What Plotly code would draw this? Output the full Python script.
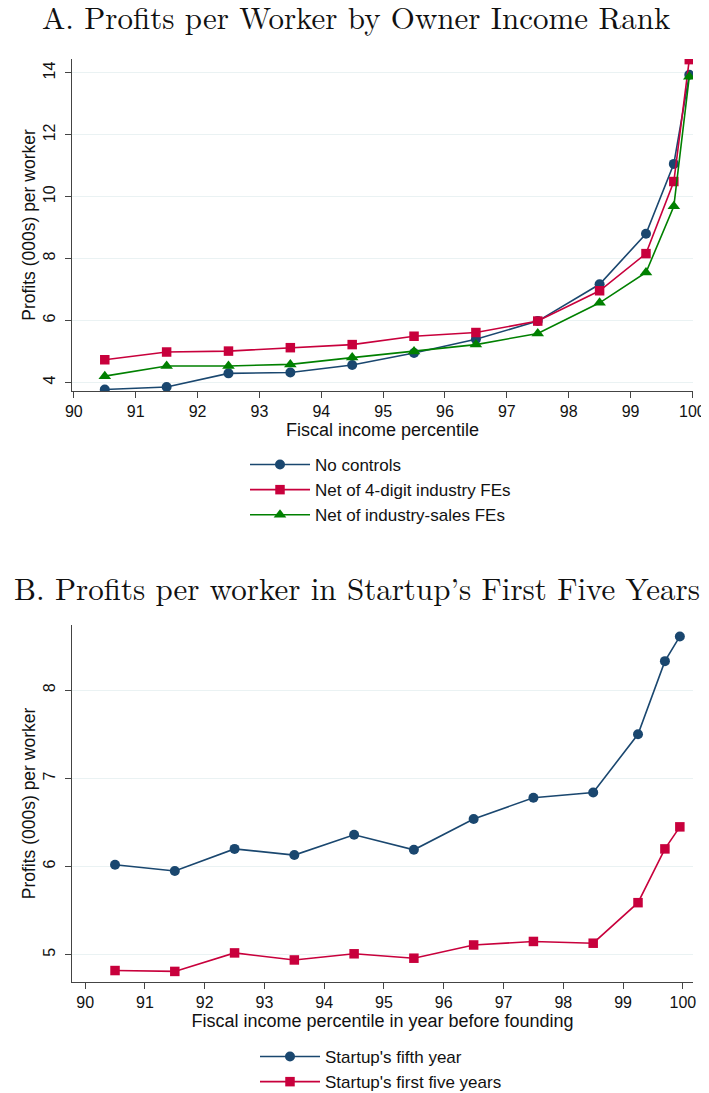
import plotly.graph_objects as go

# ---- Data ----
pct_bins = [90.5, 91.5, 92.5, 93.5, 94.5, 95.5, 96.5, 97.5, 98.5, 99.25, 99.7, 99.95]

a_no_controls = [3.77, 3.85, 4.29, 4.32, 4.56, 4.95, 5.39, 5.98, 7.17, 8.80, 11.06, 13.94]
a_net_4digit = [4.73, 4.98, 5.01, 5.12, 5.22, 5.49, 5.61, 5.98, 6.96, 8.16, 10.49, 14.43]
a_net_indsales = [4.20, 4.53, 4.53, 4.58, 4.80, 5.00, 5.22, 5.58, 6.57, 7.55, 9.69, 13.88]

b_fifth_year = [6.02, 5.95, 6.20, 6.13, 6.36, 6.19, 6.54, 6.78, 6.84, 7.50, 8.33, 8.61]
b_first_five = [4.82, 4.81, 5.02, 4.94, 5.01, 4.96, 5.11, 5.15, 5.13, 5.59, 6.20, 6.45]

x_ticks = [90, 91, 92, 93, 94, 95, 96, 97, 98, 99, 100]
a_y_ticks = [4, 6, 8, 10, 12, 14]
b_y_ticks = [5, 6, 7, 8]

names_a = ["No controls", "Net of 4-digit industry FEs", "Net of industry-sales FEs"]
names_b = ["Startup's fifth year", "Startup's first five years"]

title_a = "A. Profits per Worker by Owner Income Rank"
title_b = "B. Profits per worker in Startup\u2019s First Five Years"
xtitle_a = "Fiscal income percentile"
xtitle_b = "Fiscal income percentile in year before founding"
ytitle = "Profits (000s) per worker"

# ---- Style ----
NAVY = "#1a476f"
RED = "#c8003c"
GREEN = "#008000"
SANS = "Liberation Sans, Arial, sans-serif"
SERIF = "Latin Modern Roman, CMU Serif, Liberation Serif, serif"

# The page body has an 8px margin, so the figure is sized to the visible
# window and all positions below are given in window pixels minus OFF.
OFF = 8
W, H = 709 - OFF, 1093 - OFF
L = 72 - OFF
R = W - (693 - OFF)
PW = W - L - R

fig = go.Figure()

def add(x, y, name, color, symbol, size, xa, ya, legend):
    fig.add_trace(go.Scatter(
        x=x, y=y, name=name, mode="lines+markers",
        line=dict(color=color, width=1.6),
        marker=dict(color=color, symbol=symbol, size=size),
        xaxis=xa, yaxis=ya, legend=legend))

add(pct_bins, a_no_controls, names_a[0], NAVY, "circle", 10, "x", "y", "legend")
add(pct_bins, a_net_4digit, names_a[1], RED, "square", 9.5, "x", "y", "legend")
add(pct_bins, a_net_indsales, names_a[2], GREEN, "triangle-up", 11, "x", "y", "legend")
add(pct_bins, b_fifth_year, names_b[0], NAVY, "circle", 10, "x2", "y2", "legend2")
add(pct_bins, b_first_five, names_b[1], RED, "square", 9.5, "x2", "y2", "legend2")

def ydom(top_px, bot_px):
    return [1 - (bot_px - OFF) / H, 1 - (top_px - OFF) / H]

def px_x(px):
    return (px - OFF - L) / PW

def px_y(px):
    return 1 - (px - OFF) / H

axis_common = dict(
    showline=True, linecolor="#444444", linewidth=1.2,
    ticks="outside", ticklen=6, tickcolor="#444444", tickwidth=1.2,
    tickfont=dict(family=SANS, size=16, color="#111111"),
    zeroline=False, automargin=False,
)
xt_font = dict(family=SANS, size=18, color="#111111")
yt_font = dict(family=SANS, size=17.5, color="#111111")

fig.update_layout(
    template="none",
    width=W, height=H,
    margin=dict(l=L, r=R, t=0, b=0, autoexpand=False),
    paper_bgcolor="white", plot_bgcolor="white",
    showlegend=True,
    xaxis=dict(domain=[0, 1], anchor="y", range=[89.97, 100.01],
               tickvals=x_ticks, showgrid=False,
               title=dict(text=xtitle_a, font=xt_font, standoff=0),
               **axis_common),
    yaxis=dict(domain=ydom(59, 391), anchor="x", range=[3.72, 14.45],
               tickvals=a_y_ticks, tickangle=-90, showgrid=True, gridcolor="#eaf2f3", gridwidth=1,
               ticklabelstandoff=4,
               title=dict(text=ytitle, font=yt_font, standoff=0),
               **axis_common),
    xaxis2=dict(domain=[0, 1], anchor="y2", range=[89.78, 100.17],
                tickvals=x_ticks, showgrid=False,
                title=dict(text=xtitle_b, font=xt_font, standoff=0),
                **axis_common),
    yaxis2=dict(domain=ydom(625, 982), anchor="x2", range=[4.69, 8.74],
                tickvals=b_y_ticks, tickangle=-90, showgrid=True, gridcolor="#eaf2f3", gridwidth=1,
                ticklabelstandoff=4,
                title=dict(text=ytitle, font=yt_font, standoff=0),
                **axis_common),
    legend=dict(x=px_x(245), xanchor="left", y=px_y(447), yanchor="top",
                font=dict(family=SANS, size=17, color="#111111"),
                bgcolor="rgba(0,0,0,0)", tracegroupgap=0, itemwidth=60),
    legend2=dict(x=px_x(255), xanchor="left", y=px_y(1039), yanchor="top",
                 font=dict(family=SANS, size=17, color="#111111"),
                 bgcolor="rgba(0,0,0,0)", tracegroupgap=0, itemwidth=60),
)

fig.add_annotation(text=title_a, xref="paper", yref="paper", x=px_x(356), y=px_y(16),
                   xanchor="center", yanchor="middle", showarrow=False,
                   font=dict(family=SERIF, size=31, color="#111111"))
fig.add_annotation(text=title_b, xref="paper", yref="paper", x=px_x(357), y=px_y(587),
                   xanchor="center", yanchor="middle", showarrow=False,
                   font=dict(family=SERIF, size=31, color="#111111"))

fig.write_html("out.html")
